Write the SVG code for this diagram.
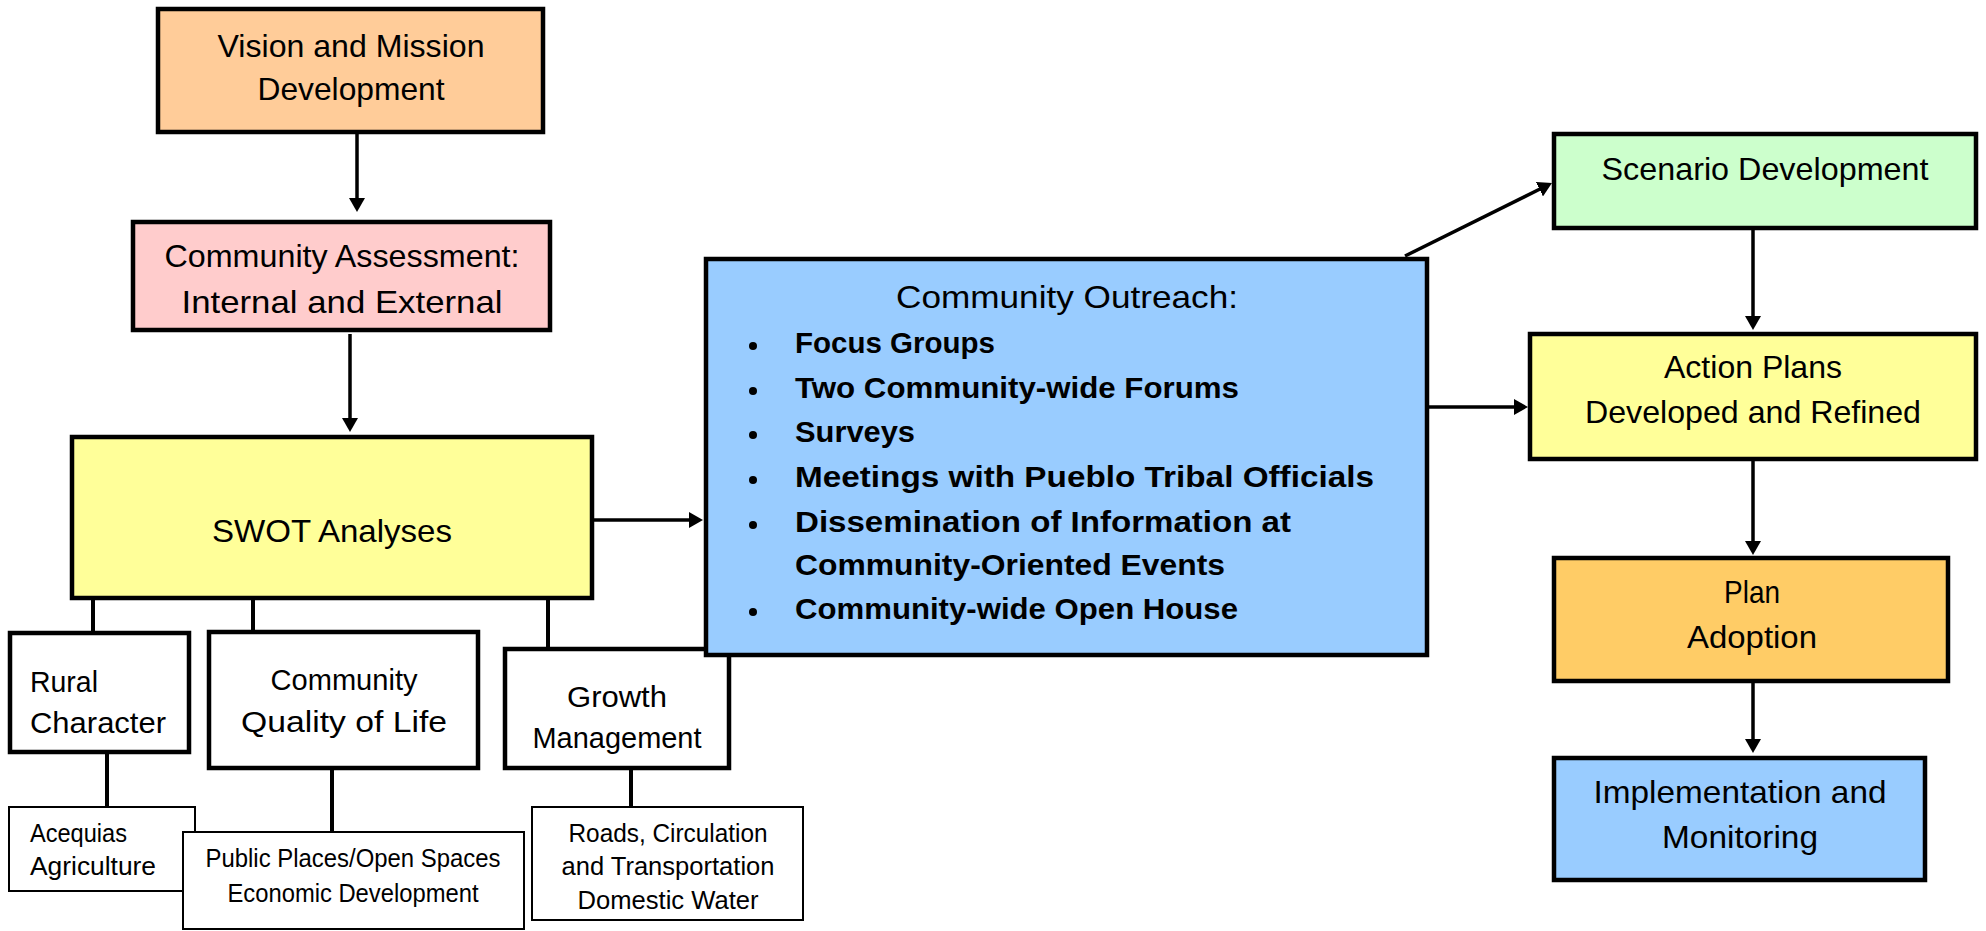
<svg xmlns="http://www.w3.org/2000/svg" width="1986" height="931" viewBox="0 0 1986 931">
  <style>
    .box { stroke: #000; stroke-width: 4.5; }
    .sub { fill: #fff; stroke: #000; stroke-width: 4.5; }
    .leaf { fill: #fff; stroke: #000; stroke-width: 2; }
    .t { font-family: "Liberation Sans", Arial, sans-serif; fill: #000; }
    .main { font-size: 32px; text-anchor: middle; }
    .mid { font-size: 30px; }
    .small { font-size: 25px; }
    .item { font-size: 30px; font-weight: bold; }
    .c { text-anchor: middle; }
    .link { stroke: #000; stroke-width: 3.5; fill: none; }
    .tree { stroke: #000; stroke-width: 4; fill: none; }
  </style>
  <defs>
    <marker id="arrow" markerUnits="userSpaceOnUse" markerWidth="16" markerHeight="16" refX="4" refY="8" orient="auto">
      <path d="M0,0 L14,8 L0,16 z" fill="#000"/>
    </marker>
  </defs>

  <rect width="1986" height="931" fill="#fff"/>

  <!-- connectors -->
  <g id="connectors">
    <line class="link" x1="357" y1="134" x2="357" y2="202" marker-end="url(#arrow)"/>
    <line class="link" x1="350" y1="334" x2="350" y2="422" marker-end="url(#arrow)"/>
    <line class="link" x1="594" y1="520" x2="693" y2="520" marker-end="url(#arrow)"/>
    <line class="link" x1="1405" y1="256" x2="1543" y2="187.5" marker-end="url(#arrow)"/>
    <line class="link" x1="1429" y1="407" x2="1518" y2="407" marker-end="url(#arrow)"/>
    <line class="link" x1="1753" y1="230" x2="1753" y2="320" marker-end="url(#arrow)"/>
    <line class="link" x1="1753" y1="461" x2="1753" y2="545" marker-end="url(#arrow)"/>
    <line class="link" x1="1753" y1="683" x2="1753" y2="743" marker-end="url(#arrow)"/>
    <line class="tree" x1="93" y1="600" x2="93" y2="632"/>
    <line class="tree" x1="253" y1="600" x2="253" y2="631"/>
    <line class="tree" x1="548" y1="600" x2="548" y2="648"/>
    <line class="tree" x1="107" y1="754" x2="107" y2="807"/>
    <line class="tree" x1="332" y1="770" x2="332" y2="832"/>
    <line class="tree" x1="631" y1="770" x2="631" y2="807"/>
  </g>

  <g id="vision">
    <rect class="box" x="158" y="9" width="385" height="123" fill="#FFCC99"/>
    <text class="t main" x="351" y="57" textLength="267" lengthAdjust="spacingAndGlyphs">Vision and Mission</text>
    <text class="t main" x="351" y="100" textLength="187" lengthAdjust="spacingAndGlyphs">Development</text>
  </g>

  <g id="assessment">
    <rect class="box" x="133" y="222" width="417" height="108" fill="#FFCCCC"/>
    <text class="t main" x="342" y="267" textLength="355" lengthAdjust="spacingAndGlyphs">Community Assessment:</text>
    <text class="t main" x="342" y="313" textLength="321" lengthAdjust="spacingAndGlyphs">Internal and External</text>
  </g>

  <g id="swot">
    <rect class="box" x="72" y="437" width="520" height="161" fill="#FFFF99"/>
    <text class="t main" x="332" y="542" textLength="240" lengthAdjust="spacingAndGlyphs">SWOT Analyses</text>
  </g>

  <g id="rural">
    <rect class="sub" x="10" y="633" width="179" height="119"/>
    <text class="t mid" x="30" y="692" textLength="68" lengthAdjust="spacingAndGlyphs">Rural</text>
    <text class="t mid" x="30" y="733" textLength="136" lengthAdjust="spacingAndGlyphs">Character</text>
  </g>

  <g id="quality">
    <rect class="sub" x="209" y="632" width="269" height="136"/>
    <text class="t mid c" x="344" y="690" textLength="147" lengthAdjust="spacingAndGlyphs">Community</text>
    <text class="t mid c" x="344" y="732" textLength="206" lengthAdjust="spacingAndGlyphs">Quality of Life</text>
  </g>

  <g id="growth">
    <rect class="sub" x="505" y="649" width="224" height="119"/>
    <text class="t mid c" x="617" y="707" textLength="100" lengthAdjust="spacingAndGlyphs">Growth</text>
    <text class="t mid c" x="617" y="748" textLength="169" lengthAdjust="spacingAndGlyphs">Management</text>
  </g>

  <g id="acequias">
    <rect class="leaf" x="9" y="807" width="186" height="84"/>
    <text class="t small" x="30" y="842" textLength="97" lengthAdjust="spacingAndGlyphs">Acequias</text>
    <text class="t small" x="30" y="875" textLength="126" lengthAdjust="spacingAndGlyphs">Agriculture</text>
  </g>

  <g id="public-places">
    <rect class="leaf" x="183" y="832" width="341" height="97"/>
    <text class="t small c" x="353" y="867" textLength="295" lengthAdjust="spacingAndGlyphs">Public Places/Open Spaces</text>
    <text class="t small c" x="353" y="902" textLength="251" lengthAdjust="spacingAndGlyphs">Economic Development</text>
  </g>

  <g id="roads">
    <rect class="leaf" x="532" y="807" width="271" height="113"/>
    <text class="t small c" x="668" y="842" textLength="199" lengthAdjust="spacingAndGlyphs">Roads, Circulation</text>
    <text class="t small c" x="668" y="875" textLength="213" lengthAdjust="spacingAndGlyphs">and Transportation</text>
    <text class="t small c" x="668" y="909" textLength="181" lengthAdjust="spacingAndGlyphs">Domestic Water</text>
  </g>

  <g id="outreach">
    <rect class="box" x="706" y="259" width="721" height="396" fill="#99CCFF"/>
    <text class="t main" x="1067" y="308" textLength="342" lengthAdjust="spacingAndGlyphs">Community Outreach:</text>
    <g fill="#000">
      <circle cx="753" cy="346" r="4"/>
      <circle cx="753" cy="391" r="4"/>
      <circle cx="753" cy="435" r="4"/>
      <circle cx="753" cy="480" r="4"/>
      <circle cx="753" cy="525" r="4"/>
      <circle cx="753" cy="612" r="4"/>
    </g>
    <text class="t item" x="795" y="353" textLength="200" lengthAdjust="spacingAndGlyphs">Focus Groups</text>
    <text class="t item" x="795" y="398" textLength="444" lengthAdjust="spacingAndGlyphs">Two Community-wide Forums</text>
    <text class="t item" x="795" y="442" textLength="120" lengthAdjust="spacingAndGlyphs">Surveys</text>
    <text class="t item" x="795" y="487" textLength="579" lengthAdjust="spacingAndGlyphs">Meetings with Pueblo Tribal Officials</text>
    <text class="t item" x="795" y="532" textLength="496" lengthAdjust="spacingAndGlyphs">Dissemination of Information at</text>
    <text class="t item" x="795" y="575" textLength="430" lengthAdjust="spacingAndGlyphs">Community-Oriented Events</text>
    <text class="t item" x="795" y="619" textLength="443" lengthAdjust="spacingAndGlyphs">Community-wide Open House</text>
  </g>

  <g id="scenario">
    <rect class="box" x="1554" y="134" width="422" height="94" fill="#CCFFCC"/>
    <text class="t main" x="1765" y="180" textLength="327" lengthAdjust="spacingAndGlyphs">Scenario Development</text>
  </g>

  <g id="action-plans">
    <rect class="box" x="1530" y="334" width="446" height="125" fill="#FFFF99"/>
    <text class="t main" x="1753" y="378" textLength="178" lengthAdjust="spacingAndGlyphs">Action Plans</text>
    <text class="t main" x="1753" y="423" textLength="336" lengthAdjust="spacingAndGlyphs">Developed and Refined</text>
  </g>

  <g id="adoption">
    <rect class="box" x="1554" y="558" width="394" height="123" fill="#FFCC66"/>
    <text class="t main" x="1752" y="603" textLength="56" lengthAdjust="spacingAndGlyphs">Plan</text>
    <text class="t main" x="1752" y="648" textLength="130" lengthAdjust="spacingAndGlyphs">Adoption</text>
  </g>

  <g id="implementation">
    <rect class="box" x="1554" y="758" width="371" height="122" fill="#99CCFF"/>
    <text class="t main" x="1740" y="803" textLength="293" lengthAdjust="spacingAndGlyphs">Implementation and</text>
    <text class="t main" x="1740" y="848" textLength="156" lengthAdjust="spacingAndGlyphs">Monitoring</text>
  </g>
</svg>
